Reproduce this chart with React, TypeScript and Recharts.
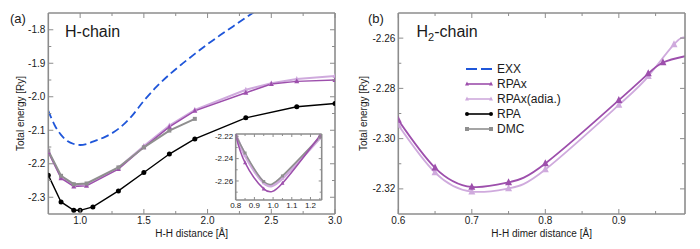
import React from 'react';
import { LineChart, Line, XAxis, YAxis, Label } from 'recharts';

const FONT = '"Liberation Sans", Arial, Helvetica, sans-serif';
const FRAME = '#8c8c8c';
const TXT = '#1a1a1a';
const C_EXX = '#1f56d9';
const C_RPAX = '#9d4fac';
const C_ADIA = '#cfaadd';
const C_RPA = '#000000';
const C_DMC = '#8f8f8f';

// ---------- Panel (a): H-chain ----------
const hExxX = [0.75, 0.8, 0.85, 0.9, 0.95, 1.0, 1.05, 1.1, 1.2, 1.3, 1.4, 1.5, 1.6, 1.7, 1.8, 1.9, 2.0, 2.1, 2.2, 2.3, 2.4];
const hExxY = [-2.042, -2.085, -2.114, -2.132, -2.141, -2.144, -2.141, -2.134, -2.119, -2.096, -2.06, -2.012, -1.97, -1.934, -1.902, -1.872, -1.843, -1.816, -1.79, -1.764, -1.738];
const hRpaxX = [0.75, 0.85, 0.95, 1.05, 1.3, 1.5, 1.7, 1.9, 2.3, 2.5, 2.7, 3.0];
const hRpaxY = [-2.166, -2.243, -2.268, -2.266, -2.216, -2.151, -2.09, -2.042, -1.988, -1.962, -1.954, -1.95];
const hAdiaX = [0.75, 0.85, 0.95, 1.05, 1.3, 1.5, 1.7, 1.9, 2.3, 2.5, 2.7, 3.0];
const hAdiaY = [-2.163, -2.24, -2.264, -2.262, -2.212, -2.147, -2.086, -2.039, -1.979, -1.96, -1.947, -1.938];
const hRpaX = [0.75, 0.85, 0.95, 1.0, 1.1, 1.3, 1.5, 1.7, 1.9, 2.3, 2.7, 3.0];
const hRpaY = [-2.234, -2.314, -2.339, -2.339, -2.329, -2.281, -2.226, -2.171, -2.126, -2.063, -2.03, -2.02];
const hDmcX = [0.75, 0.85, 0.95, 1.05, 1.3, 1.5, 1.7, 1.9];
const hDmcY = [-2.161, -2.236, -2.261, -2.259, -2.211, -2.151, -2.101, -2.066];
const hXTicks = [1.0, 1.25, 1.5, 1.75, 2.0, 2.25, 2.5, 2.75, 3.0];
const hYTicks = [-2.3, -2.25, -2.2, -2.15, -2.1, -2.05, -2.0, -1.95, -1.9, -1.85, -1.8];

// ---------- Inset of panel (a) ----------
const iRpaxX = [0.8, 0.85, 0.95, 1.05, 1.25];
const iRpaxY = [-2.219, -2.2436, -2.267, -2.262, -2.2195];
const iAdiaX = [0.8, 0.85, 0.95, 1.05, 1.25];
const iAdiaY = [-2.2185, -2.237, -2.2615, -2.2575, -2.2215];
const iDmcX = [0.8, 0.85, 0.95, 1.05, 1.25];
const iDmcY = [-2.219, -2.235, -2.2605, -2.2555, -2.221];
const iXTicks = [0.8, 0.85, 0.9, 0.95, 1.0, 1.05, 1.1, 1.15, 1.2, 1.25];
const iYTicks = [-2.27, -2.26, -2.25, -2.24, -2.23, -2.22];

// ---------- Panel (b): H2-chain ----------
const bRpaxX = [0.6, 0.65, 0.7, 0.75, 0.8, 0.9, 0.94, 0.96, 0.99];
const bRpaxY = [-2.2926, -2.3116, -2.3192, -2.3174, -2.3099, -2.2847, -2.2741, -2.2697, -2.2672];
const bRpaxMark = [1, 1, 1, 1, 1, 1, 1, 1, 0];
const bAdiaX = [0.6, 0.65, 0.7, 0.75, 0.8, 0.9, 0.94, 0.975, 0.99];
const bAdiaY = [-2.2946, -2.3135, -2.3211, -2.3198, -2.3123, -2.2866, -2.2752, -2.2625, -2.2598];
const bAdiaMark = [1, 1, 1, 1, 1, 1, 1, 1, 0];
const bXTicks = [0.6, 0.65, 0.7, 0.75, 0.8, 0.85, 0.9, 0.95];
const bYTicks = [-2.32, -2.31, -2.3, -2.29, -2.28, -2.27, -2.26];

const legendItems = [
  { name: 'EXX', color: C_EXX, dash: '11 4', shape: 'none' },
  { name: 'RPAx', color: C_RPAX, dash: undefined, shape: 'tri' },
  { name: 'RPAx(adia.)', color: C_ADIA, dash: undefined, shape: 'tri' },
  { name: 'RPA', color: C_RPA, dash: undefined, shape: 'circ' },
  { name: 'DMC', color: C_DMC, dash: undefined, shape: 'sq' },
];

type Pt = { x: number; y: number; m: number };
const pts = (xs: number[], ys: number[], marks?: number[]): Pt[] =>
  xs.map((x, i) => ({ x, y: ys[i], m: marks ? marks[i] : 1 }));

const marker = (shape: string, cx: number, cy: number, s: number, color: string, key?: string) => {
  if (shape === 'tri')
    return <path key={key} d={`M${cx},${cy - s * 0.6} L${cx + s / 2},${cy + s * 0.4} L${cx - s / 2},${cy + s * 0.4} Z`} fill={color} />;
  if (shape === 'circ') return <circle key={key} cx={cx} cy={cy} r={s / 2} fill={color} />;
  if (shape === 'sq') return <rect key={key} x={cx - s / 2} y={cy - s / 2} width={s} height={s} fill={color} />;
  return null;
};

const mkDot = (shape: string, size: number, color: string) => (props: any) => {
  const { cx, cy, index, payload } = props;
  if (cx == null || cy == null || (payload && payload.m === 0)) return <g key={`d-${index}`} />;
  return <g key={`d-${index}`}>{marker(shape, cx, cy, size, color)}</g>;
};

type TickOpts = { side: 'bottom' | 'top' | 'left' | 'right'; margin: number; step: number; major: number; minor: number; fs: number; digits: number; label: boolean };
const mkTick = (o: TickOpts) => (props: any) => {
  const { x, y, payload, index } = props;
  const v = Number(payload.value);
  const r = v / o.step;
  const isMajor = Math.abs(r - Math.round(r)) < 1e-4;
  const len = isMajor ? o.major : o.minor;
  const m = o.margin;
  let x1 = x, y1 = y, x2 = x, y2 = y;
  let anchor: 'middle' | 'end' | 'start' = 'middle';
  let dy = '0';
  if (o.side === 'bottom') { y1 = y - m; y2 = y1 - len; dy = '0.72em'; }
  else if (o.side === 'top') { y1 = y + m; y2 = y1 + len; }
  else if (o.side === 'left') { x1 = x + m; x2 = x1 + len; anchor = 'end'; dy = '0.35em'; }
  else { x1 = x - m; x2 = x1 - len; }
  return (
    <g key={`t-${index}`}>
      <line x1={x1} y1={y1} x2={x2} y2={y2} stroke={FRAME} strokeWidth={1} />
      {o.label && isMajor ? (
        <text x={x} y={y} dy={dy} textAnchor={anchor} fontSize={o.fs} fontFamily={FONT} fill={TXT}>
          {v.toFixed(o.digits)}
        </text>
      ) : null}
    </g>
  );
};

const axisLine = { stroke: FRAME, strokeWidth: 1.6 };

const xTitle = (text: string, down: number) => (props: any) => {
  const vb = props.viewBox || {};
  const cx = vb.x + vb.width / 2;
  return (
    <text x={cx} y={vb.y + down} textAnchor="middle" fontSize={10} fontFamily={FONT} fill={TXT}>{text}</text>
  );
};
const yTitle = (text: string, back: number) => (props: any) => {
  const vb = props.viewBox || {};
  const cx = vb.x + vb.width - back;
  const cy = vb.y + vb.height / 2;
  return (
    <text x={cx} y={cy} transform={`rotate(-90 ${cx} ${cy})`} textAnchor="middle" dominantBaseline="central" fontSize={10} fontFamily={FONT} fill={TXT}>{text}</text>
  );
};

export default function App() {
  const mainMargin = { top: 12, right: 14, bottom: 5, left: 8.3 };
  return (
    <div style={{ position: 'absolute', left: 0, top: 0, width: 700, height: 249, background: '#fff' }}>
      {/* Panel (a) */}
      <div style={{ position: 'absolute', left: 0, top: 0 }}>
        <LineChart width={350} height={249} margin={mainMargin}>
          <XAxis xAxisId="b" dataKey="x" type="number" domain={[0.75, 3.0]} allowDataOverflow ticks={hXTicks} interval={0}
            tickSize={0} tickMargin={3} tickLine={false} axisLine={axisLine} height={30}
            tick={mkTick({ side: 'bottom', margin: 3, step: 0.5, major: 5, minor: 3, fs: 10, digits: 1, label: true })}>
            <Label content={xTitle('H-H distance [Å]', 23)} />
          </XAxis>
          <XAxis xAxisId="t" orientation="top" dataKey="x" type="number" domain={[0.75, 3.0]} allowDataOverflow ticks={hXTicks} interval={0}
            tickSize={0} tickMargin={0} tickLine={false} axisLine={axisLine} height={1}
            tick={mkTick({ side: 'top', margin: 0, step: 0.5, major: 5, minor: 3, fs: 10, digits: 1, label: false })} />
          <YAxis yAxisId="l" type="number" domain={[-2.35, -1.75]} allowDataOverflow ticks={hYTicks} interval={0}
            tickSize={0} tickMargin={3} tickLine={false} axisLine={axisLine} width={40}
            tick={mkTick({ side: 'left', margin: 3, step: 0.1, major: 5, minor: 3, fs: 10, digits: 1, label: true })}>
            <Label content={yTitle('Total energy [Ry]', 28)} />
          </YAxis>
          <YAxis yAxisId="r" orientation="right" type="number" domain={[-2.35, -1.75]} allowDataOverflow ticks={hYTicks} interval={0}
            tickSize={0} tickMargin={0} tickLine={false} axisLine={axisLine} width={1}
            tick={mkTick({ side: 'right', margin: 0, step: 0.1, major: 5, minor: 3, fs: 10, digits: 1, label: false })} />
          <Line xAxisId="b" yAxisId="l" data={pts(hAdiaX, hAdiaY)} dataKey="y" type="linear" stroke={C_ADIA} strokeWidth={2}
            dot={mkDot('tri', 5, C_ADIA)} activeDot={false} isAnimationActive={false} />
          <Line xAxisId="b" yAxisId="l" data={pts(hRpaxX, hRpaxY)} dataKey="y" type="linear" stroke={C_RPAX} strokeWidth={1.4}
            dot={mkDot('tri', 5, C_RPAX)} activeDot={false} isAnimationActive={false} />
          <Line xAxisId="b" yAxisId="l" data={pts(hDmcX, hDmcY)} dataKey="y" type="linear" stroke={C_DMC} strokeWidth={2}
            dot={mkDot('sq', 4, C_DMC)} activeDot={false} isAnimationActive={false} />
          <Line xAxisId="b" yAxisId="l" data={pts(hRpaX, hRpaY)} dataKey="y" type="linear" stroke={C_RPA} strokeWidth={1.4}
            dot={mkDot('circ', 5, C_RPA)} activeDot={false} isAnimationActive={false} />
          <Line xAxisId="b" yAxisId="l" data={pts(hExxX, hExxY)} dataKey="y" type="monotone" stroke={C_EXX} strokeWidth={1.8}
            strokeDasharray="8 4" dot={false} activeDot={false} isAnimationActive={false} />
          <Line xAxisId="t" yAxisId="r" data={pts([0.75, 3.0], [-2.35, -1.75])} dataKey="y" stroke="none" dot={false}
            activeDot={false} legendType="none" isAnimationActive={false} />
        </LineChart>
      </div>

      {/* Inset */}
      <div style={{ position: 'absolute', left: 200, top: 128 }}>
        <LineChart width={126} height={88} margin={{ top: 5, right: 3.3, bottom: 2, left: 5.7 }}>
          <XAxis xAxisId="b" dataKey="x" type="number" domain={[0.8, 1.26]} allowDataOverflow ticks={iXTicks} interval={0}
            tickSize={0} tickMargin={2.5} tickLine={false} axisLine={axisLine} height={14}
            tick={mkTick({ side: 'bottom', margin: 2.5, step: 0.1, major: 3, minor: 2, fs: 8, digits: 1, label: true })} />
          <XAxis xAxisId="t" orientation="top" dataKey="x" type="number" domain={[0.8, 1.26]} allowDataOverflow ticks={iXTicks} interval={0}
            tickSize={0} tickMargin={0} tickLine={false} axisLine={axisLine} height={1}
            tick={mkTick({ side: 'top', margin: 0, step: 0.1, major: 3, minor: 2, fs: 8, digits: 1, label: false })} />
          <YAxis yAxisId="l" type="number" domain={[-2.277, -2.218]} allowDataOverflow ticks={iYTicks} interval={0}
            tickSize={0} tickMargin={2.5} tickLine={false} axisLine={axisLine} width={30}
            tick={mkTick({ side: 'left', margin: 2.5, step: 0.02, major: 3, minor: 2, fs: 8, digits: 2, label: true })} />
          <YAxis yAxisId="r" orientation="right" type="number" domain={[-2.277, -2.218]} allowDataOverflow ticks={iYTicks} interval={0}
            tickSize={0} tickMargin={0} tickLine={false} axisLine={axisLine} width={1}
            tick={mkTick({ side: 'right', margin: 0, step: 0.02, major: 3, minor: 2, fs: 8, digits: 2, label: false })} />
          <Line xAxisId="b" yAxisId="l" data={pts(iAdiaX, iAdiaY)} dataKey="y" type="natural" stroke={C_ADIA} strokeWidth={3}
            dot={mkDot('tri', 4, C_ADIA)} activeDot={false} isAnimationActive={false} />
          <Line xAxisId="b" yAxisId="l" data={pts(iDmcX, iDmcY)} dataKey="y" type="natural" stroke={C_DMC} strokeWidth={1.6}
            dot={mkDot('sq', 3, C_DMC)} activeDot={false} isAnimationActive={false} />
          <Line xAxisId="b" yAxisId="l" data={pts(iRpaxX, iRpaxY)} dataKey="y" type="natural" stroke={C_RPAX} strokeWidth={1.5}
            dot={mkDot('tri', 4, C_RPAX)} activeDot={false} isAnimationActive={false} />
          <Line xAxisId="t" yAxisId="r" data={pts([0.8, 1.26], [-2.277, -2.218])} dataKey="y" stroke="none" dot={false}
            activeDot={false} legendType="none" isAnimationActive={false} />
        </LineChart>
      </div>

      {/* Panel (b) */}
      <div style={{ position: 'absolute', left: 350, top: 0 }}>
        <LineChart width={350} height={249} margin={mainMargin}>
          <XAxis xAxisId="b" dataKey="x" type="number" domain={[0.6, 0.99]} allowDataOverflow ticks={bXTicks} interval={0}
            tickSize={0} tickMargin={3} tickLine={false} axisLine={axisLine} height={30}
            tick={mkTick({ side: 'bottom', margin: 3, step: 0.1, major: 5, minor: 3, fs: 10, digits: 1, label: true })}>
            <Label content={xTitle('H-H dimer distance [Å]', 23)} />
          </XAxis>
          <XAxis xAxisId="t" orientation="top" dataKey="x" type="number" domain={[0.6, 0.99]} allowDataOverflow ticks={bXTicks} interval={0}
            tickSize={0} tickMargin={0} tickLine={false} axisLine={axisLine} height={1}
            tick={mkTick({ side: 'top', margin: 0, step: 0.1, major: 5, minor: 3, fs: 10, digits: 1, label: false })} />
          <YAxis yAxisId="l" type="number" domain={[-2.33, -2.25]} allowDataOverflow ticks={bYTicks} interval={0}
            tickSize={0} tickMargin={3} tickLine={false} axisLine={axisLine} width={40}
            tick={mkTick({ side: 'left', margin: 3, step: 0.02, major: 5, minor: 3, fs: 10, digits: 2, label: true })}>
            <Label content={yTitle('Total energy [Ry]', 34.5)} />
          </YAxis>
          <YAxis yAxisId="r" orientation="right" type="number" domain={[-2.33, -2.25]} allowDataOverflow ticks={bYTicks} interval={0}
            tickSize={0} tickMargin={0} tickLine={false} axisLine={axisLine} width={1}
            tick={mkTick({ side: 'right', margin: 0, step: 0.02, major: 5, minor: 3, fs: 10, digits: 2, label: false })} />
          <Line xAxisId="b" yAxisId="l" data={pts(bAdiaX, bAdiaY, bAdiaMark)} dataKey="y" type="natural" stroke={C_ADIA} strokeWidth={1.8}
            dot={mkDot('tri', 7, C_ADIA)} activeDot={false} isAnimationActive={false} />
          <Line xAxisId="b" yAxisId="l" data={pts(bRpaxX, bRpaxY, bRpaxMark)} dataKey="y" type="natural" stroke={C_RPAX} strokeWidth={1.8}
            dot={mkDot('tri', 7, C_RPAX)} activeDot={false} isAnimationActive={false} />
          <Line xAxisId="t" yAxisId="r" data={pts([0.6, 0.99], [-2.33, -2.25])} dataKey="y" stroke="none" dot={false}
            activeDot={false} legendType="none" isAnimationActive={false} />
        </LineChart>
      </div>

      {/* Panel labels, titles, legend */}
      <svg width={700} height={249} style={{ position: 'absolute', left: 0, top: 0, pointerEvents: 'none' }}>
        <text x={10} y={23} fontSize={13} fontFamily={FONT} fill={TXT}>(a)</text>
        <text x={65} y={36.5} fontSize={16} fontFamily={FONT} fill={TXT}>H-chain</text>
        <text x={368} y={23} fontSize={13} fontFamily={FONT} fill={TXT}>(b)</text>
        <text x={416.5} y={36.5} fontSize={16} fontFamily={FONT} fill={TXT}>
          H<tspan fontSize={11} dy={4}>2</tspan><tspan dy={-4}>-chain</tspan>
        </text>
        {legendItems.map((it, i) => {
          const cy = 69 + i * 15;
          return (
            <g key={it.name}>
              <line x1={466} y1={cy} x2={492} y2={cy} stroke={it.color} strokeWidth={it.shape === 'none' ? 1.8 : 1.6} strokeDasharray={it.dash} />
              {marker(it.shape, 467, cy, 4, it.color, 'a')}
              {marker(it.shape, 491, cy, 4, it.color, 'b')}
              <text x={497} y={cy + 4.3} fontSize={12} fontFamily={FONT} fill={TXT}>{it.name}</text>
            </g>
          );
        })}
      </svg>
    </div>
  );
}
